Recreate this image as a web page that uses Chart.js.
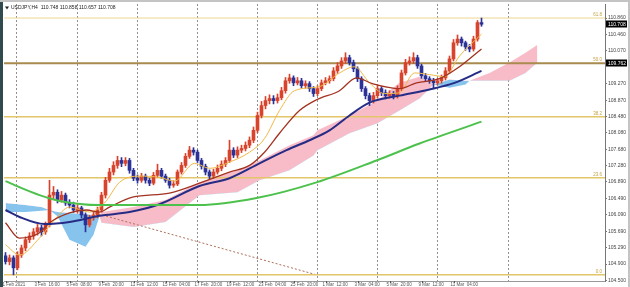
<!DOCTYPE html>
<html>
<head>
<meta charset="utf-8">
<title>USDJPY,H4</title>
<script src="https://cdn.jsdelivr.net/npm/chart.js@4.4.1/dist/chart.umd.min.js"></script>
<style>
  html, body { margin: 0; padding: 0; background: #fff; }
  #wrap { width: 630px; height: 287px; }
</style>
</head>
<body>
<div id="wrap"><canvas id="chart" width="630" height="287"></canvas></div>
<script>
// header of the chart window
const symbolTitle = 'USDJPY,H4  110.748 110.858 110.657 110.708'

// candles, one value per bar (open = previous close)
const firstOpen = 105.10
const closes = [
  104.96,105.05,104.81,105.12,105.29,105.49,105.58,105.68,105.78,105.68,
  105.85,106.57,106.64,106.45,106.57,106.38,106.33,106.21,106.26,106.09,
  105.85,106.02,106.09,106.21,106.57,106.93,107.13,107.29,107.41,107.34,
  107.41,107.17,106.98,106.93,107.03,106.93,106.86,107.05,107.17,107.03,
  106.93,106.81,106.84,107.13,107.29,107.51,107.66,107.61,107.41,107.27,
  107.13,107.03,107.13,107.22,107.32,107.41,107.66,107.54,107.66,107.70,
  107.78,107.90,108.14,108.50,108.74,108.86,108.91,108.86,108.93,109.10,
  109.34,109.41,109.29,109.34,109.22,109.27,109.15,109.03,109.15,109.29,
  109.34,109.39,109.58,109.70,109.82,109.90,109.78,109.63,109.39,109.15,
  108.98,108.86,108.98,109.15,109.05,108.98,109.03,108.98,109.15,109.53,
  109.78,109.82,109.90,109.70,109.46,109.39,109.34,109.29,109.34,109.41,
  109.58,109.87,110.26,110.35,110.26,110.16,110.11,110.35,110.75,110.71
]
const highs = [
  105.18,105.12,105.10,105.20,105.36,105.56,105.66,105.76,105.86,105.84,
  105.92,106.93,106.78,106.70,106.66,106.62,106.46,106.40,106.34,106.30,
  106.14,106.08,106.16,106.28,106.64,107.00,107.22,107.38,107.51,107.48,
  107.48,107.46,107.22,107.06,107.10,107.08,106.98,107.12,107.32,107.22,
  107.08,106.98,106.92,107.18,107.36,107.58,107.75,107.72,107.66,107.46,
  107.32,107.18,107.20,107.30,107.40,107.48,107.90,107.72,107.74,107.78,
  107.86,107.98,108.22,108.58,108.84,108.96,109.00,108.98,109.02,109.18,
  109.42,109.50,109.46,109.42,109.40,109.34,109.32,109.20,109.22,109.36,
  109.42,109.46,109.66,109.78,109.90,110.02,109.96,109.84,109.68,109.44,
  109.20,109.04,109.06,109.22,109.20,109.12,109.10,109.08,109.22,109.60,
  109.86,109.92,110.02,109.96,109.74,109.52,109.44,109.40,109.40,109.48,
  109.66,109.94,110.34,110.45,110.40,110.30,110.22,110.42,110.80,110.86
]
const lows = [
  104.90,104.88,104.64,104.76,105.06,105.22,105.42,105.50,105.60,105.58,
  105.62,105.80,106.48,106.38,106.40,106.32,106.26,106.15,106.14,106.02,
  105.68,105.80,105.96,106.02,106.16,106.50,106.88,107.06,107.22,107.26,
  107.28,107.10,106.92,106.86,106.88,106.86,106.80,106.82,107.00,106.98,
  106.88,106.74,106.76,106.80,107.08,107.24,107.46,107.54,107.36,107.20,
  107.06,106.96,106.98,107.08,107.16,107.26,107.36,107.48,107.48,107.60,
  107.64,107.72,107.84,108.08,108.44,108.66,108.78,108.78,108.80,108.88,
  109.04,109.28,109.22,109.24,109.16,109.16,109.08,108.96,108.98,109.10,
  109.24,109.28,109.34,109.52,109.64,109.76,109.72,109.56,109.32,109.08,
  108.90,108.74,108.80,108.92,108.98,108.90,108.92,108.90,108.92,109.10,
  109.48,109.72,109.76,109.64,109.40,109.32,109.28,109.17,109.24,109.28,
  109.36,109.52,109.82,110.20,110.18,110.08,110.04,110.06,110.30,110.66
]

// moving averages as [bar, price]
const fastMa = [[0,105.37],[3.5,105.12],[8.5,105.53],[12.25,105.97],[16,106.28],[21,106.16],
  [24.75,106.38],[28.5,106.88],[33.5,107.03],[38.5,107.00],[42.25,106.91],[47.25,107.34],
  [51,107.22],[56,107.37],[61,107.61],[64.75,107.94],[68.5,108.62],[72.25,109.10],
  [78.5,109.20],[83.5,109.53],[87.25,109.68],[91,109.29],[94.75,109.03],[98.5,109.05],
  [102.25,109.53],[106,109.49],[109.75,109.44],[113.5,109.94],[119,110.47]]
const midMa = [[0,105.90],[3.5,105.53],[8.5,105.66],[11,105.90],[16,106.14],[20.25,106.21],
  [23.5,106.16],[26,106.28],[31.75,106.52],[41,106.62],[48.5,106.86],[56,107.13],
  [61,107.29],[64.75,107.61],[68.5,108.07],[73.5,108.62],[77.75,108.88],[83.5,109.10],
  [87.75,109.41],[91.75,109.27],[98.5,109.15],[102.75,109.29],[108.5,109.39],
  [113.5,109.68],[119,110.11]]
const slowMa = [[0,106.21],[3.5,106.04],[9.75,105.87],[16,105.92],[23.5,106.07],[31,106.16],
  [38.5,106.35],[48.5,106.79],[56,106.98],[63.5,107.34],[70.25,107.66],[76,107.90],
  [81,108.14],[86,108.50],[91,108.81],[98.5,108.98],[106,109.13],[112.25,109.29],[119,109.58]]
const longMa = [[0,106.91],[3.5,106.76],[8.5,106.57],[13.5,106.43],[23.5,106.33],[33.5,106.33],
  [48.5,106.33],[62.75,106.50],[77.75,106.88],[92.75,107.41],[103.5,107.82],[119,108.35]]

// ichimoku cloud spans (shifted forward)
const cloudBars = [0,5,9,11,13,16,20,22,23.5,24,32,40,48.5,58,63.5,71,77,78,86,93,98.5,
  103.5,107,111,115,116,121,126,130,133]
const senkouA = [106.16,106.16,106.19,106.21,106.06,105.49,105.32,105.61,106.06,106.16,
  106.28,106.45,106.88,107.17,107.41,107.78,108.02,108.14,108.50,108.86,109.29,
  109.44,109.25,109.17,109.25,109.34,109.53,109.78,110.02,110.21]
const senkouB = [106.38,106.33,106.28,106.21,106.16,106.14,106.11,106.09,106.06,105.90,
  105.80,105.92,106.57,106.64,106.93,107.17,107.53,107.66,108.07,108.31,108.62,
  108.91,109.25,109.37,109.34,109.34,109.34,109.34,109.53,109.78]

// fibonacci retracement
const fibLabels = ['0.0', '23.6', '38.2', '50.0', '61.8']
const fibPrices = [104.64, 106.99, 108.47, 109.762, 110.86]
const fibBaseLine = [[22.25, 106.14], [77.75, 104.64]]

// axes
const priceTicks = [104.5, 104.9, 105.29, 105.69, 106.09, 106.49, 106.89, 107.28, 107.68,
  108.08, 108.48, 108.87, 109.27, 110.07, 110.46, 110.86]
const dateTickBars = [0, 8, 16, 24, 32, 40, 48, 56, 64, 72, 80, 88, 96, 104, 112]
const dateLabels = ['1 Feb 2021', '3 Feb  16:00', '5 Feb  08:00', '9 Feb  20:00', '11 Feb  12:00',
  '15 Feb  04:00', '17 Feb  20:00', '19 Feb  12:00', '23 Feb  04:00', '25 Feb  20:00',
  '1 Mar  12:00', '3 Mar  04:00', '5 Mar  20:00', '9 Mar  12:00', '11 Mar  04:00']
const separatorBars = [2.5, 17.75, 32.75, 47.75, 62.75, 77.75, 92.75, 107.75, 125.5]
const lastPrice = 110.708

const UP = '#d8432c'
const DOWN = '#2c3196'
const FONT = '"Liberation Sans", Arial, sans-serif'

const opens = closes.map((c, i) => i === 0 ? firstOpen : closes[i - 1])
const candleColor = i => closes[i] >= opens[i] ? UP : DOWN
const toPoints = pairs => pairs.map(([x, y]) => ({x, y}))

const maLine = (pairs, color, width) => ({
  type: 'line', data: toPoints(pairs), borderColor: color, borderWidth: width,
  pointRadius: 0, fill: false, cubicInterpolationMode: 'monotone', order: 0
})

const fibColors = ['#e3c66a', '#e3c66a', '#e3c66a', '#a98b4e', '#ecd792']
const fibWidths = [1.5, 1.5, 1.5, 2, 1]

const datasets = [
  maLine(longMa, '#4cc24c', 2),
  maLine(slowMa, '#262c86', 2),
  maLine(midMa, '#a3321f', 1.3),
  maLine(fastMa, '#f0b94a', 1),
  {
    type: 'bar', data: closes.map((c, i) => ({x: i, y: [opens[i], c]})),
    backgroundColor: ctx => candleColor(ctx.dataIndex), barThickness: 3,
    grouped: false, minBarLength: 1, order: 2
  },
  {
    type: 'bar', data: closes.map((c, i) => ({x: i, y: [lows[i], highs[i]]})),
    backgroundColor: ctx => candleColor(ctx.dataIndex), barThickness: 1,
    grouped: false, order: 3
  },
  ...fibPrices.map((p, k) => ({
    type: 'line', data: [{x: -0.375, y: p}, {x: 149.875, y: p}],
    borderColor: fibColors[k], borderWidth: fibWidths[k], pointRadius: 0, order: 4
  })),
  {
    type: 'line', data: toPoints(fibBaseLine), borderColor: '#b0705a', borderWidth: 1,
    borderDash: [2, 2], pointRadius: 0, order: 4
  },
  {
    type: 'line', data: cloudBars.map((b, i) => ({x: b, y: senkouA[i]})),
    borderColor: 'rgba(0,0,0,0)', pointRadius: 0, order: 6,
    fill: {target: '+1', above: '#f8bcc8', below: '#86c4ee'}
  },
  {
    type: 'line', data: cloudBars.map((b, i) => ({x: b, y: senkouB[i]})),
    borderColor: 'rgba(0,0,0,0)', pointRadius: 0, order: 6, fill: false
  }
]

const decor = {
  id: 'decor',
  beforeDraw(chart) {
    const {ctx, chartArea: a, scales: {x}} = chart
    ctx.save()
    ctx.fillStyle = '#fff'
    ctx.fillRect(0, 0, chart.width, chart.height)
    ctx.strokeStyle = '#909090'
    ctx.lineWidth = 1
    ctx.setLineDash([2, 2])
    separatorBars.forEach(b => {
      const px = Math.round(x.getPixelForValue(b)) + 0.5
      ctx.beginPath(); ctx.moveTo(px, a.top); ctx.lineTo(px, a.bottom); ctx.stroke()
    })
    ctx.restore()
  },
  afterDraw(chart) {
    const {ctx, chartArea: a, scales: {x, y}} = chart
    ctx.save()
    // window edges
    ctx.fillStyle = '#2f4b4d'
    ctx.fillRect(0, 0, 3, chart.height)
    ctx.fillStyle = '#c4c4c4'
    ctx.fillRect(0, 0, chart.width, 2)
    ctx.fillRect(chart.width - 2, 0, 2, chart.height)
    ctx.fillStyle = '#999'
    ctx.fillRect(a.left, a.bottom, a.right - a.left, 1)

    // time labels under the chart
    ctx.font = '4.5px ' + FONT
    ctx.fillStyle = '#555'
    ctx.textAlign = 'left'
    ctx.textBaseline = 'middle'
    dateTickBars.forEach((b, k) => {
      const px = x.getPixelForValue(b)
      ctx.fillRect(Math.round(px), a.bottom, 1, 2)
      ctx.fillText(dateLabels[k], px - 3, a.bottom + 3.5)
    })

    // fib level names
    ctx.fillStyle = '#c6a246'
    ctx.textAlign = 'right'
    ctx.textBaseline = 'bottom'
    fibPrices.forEach((p, k) => ctx.fillText(fibLabels[k], a.right - 3, y.getPixelForValue(p) - 1))

    // header
    ctx.fillStyle = '#222'
    ctx.beginPath(); ctx.moveTo(5, 6.5); ctx.lineTo(9, 6.5); ctx.lineTo(7, 9.5); ctx.fill()
    ctx.font = '5px ' + FONT
    ctx.textAlign = 'left'
    ctx.textBaseline = 'middle'
    ctx.fillText(symbolTitle, 11, 8)

    // price boxes on the axis
    ;[lastPrice, fibPrices[3]].forEach(p => {
      const py = Math.round(y.getPixelForValue(p))
      ctx.fillStyle = '#000'
      ctx.fillRect(a.right + 1, py - 3.5, 21, 7)
      ctx.fillStyle = '#fff'
      ctx.fillText(p.toFixed(3), a.right + 3, py + 0.5)
    })
    ctx.restore()
  }
}

new Chart(document.getElementById('chart'), {
  type: 'bar',
  data: {datasets},
  options: {
    responsive: false,
    animation: false,
    devicePixelRatio: 1,
    layout: {padding: {left: 4, top: 3, right: 0, bottom: 0}},
    plugins: {legend: {display: false}, tooltip: {enabled: false}},
    scales: {
      x: {
        type: 'linear', min: -0.375, max: 149.875, offset: false,
        grid: {display: false}, border: {display: false},
        ticks: {display: false},
        afterFit: s => { s.height = 6 }
      },
      y: {
        position: 'right', min: 104.49, max: 111.2,
        grid: {drawOnChartArea: false, drawTicks: true, tickLength: 2, color: '#777'},
        border: {color: '#777', width: 1},
        afterBuildTicks: s => { s.ticks = priceTicks.map(v => ({value: v})) },
        afterFit: s => { s.width = 25 },
        ticks: {
          padding: 1, color: '#444', font: {size: 5, family: FONT},
          callback: v => v.toFixed(3)
        }
      }
    }
  },
  plugins: [decor]
})
</script>
</body>
</html>
